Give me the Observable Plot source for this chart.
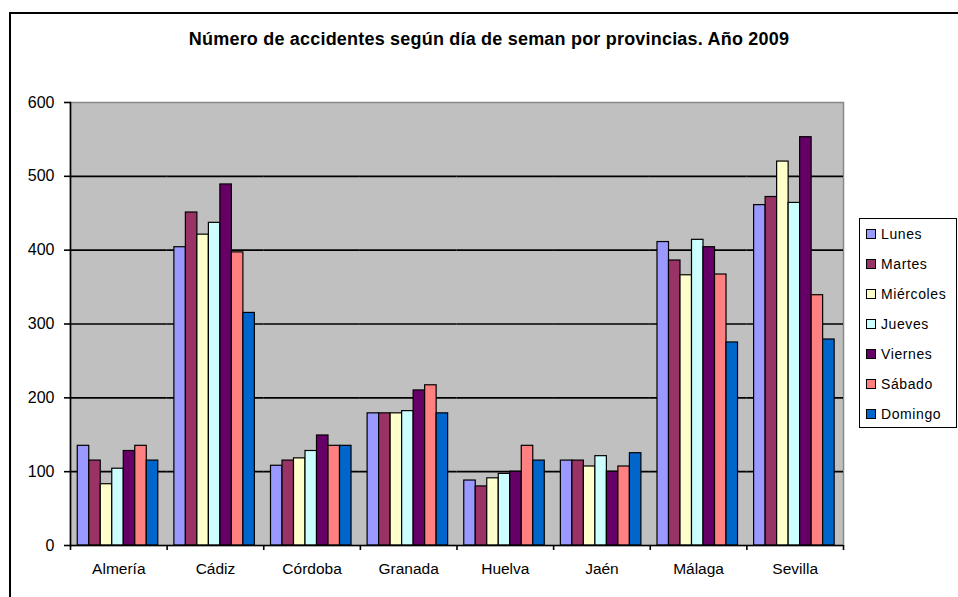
<!DOCTYPE html>
<html>
<head>
<meta charset="utf-8">
<script src="https://cdn.jsdelivr.net/npm/d3@7"></script>
<script src="https://cdn.jsdelivr.net/npm/@observablehq/plot@0.6"></script>
<style>
  html, body { margin: 0; padding: 0; background: #fff; overflow: hidden; }
  body { width: 958px; height: 597px; position: relative; font-family: "Liberation Sans", Arial, sans-serif; }
  #border { position: absolute; left: 9px; top: 12px; width: 980px; height: 620px; border: 2px solid #000; box-sizing: border-box; }
  #title { position: absolute; left: 0; width: 978px; top: 29px; text-align: center; font-size: 18px; font-weight: bold; color: #000; letter-spacing: 0.2px; }
  #chart { position: absolute; left: 0; top: 0; }
  #legend { position: absolute; left: 859px; top: 218px; width: 98px; height: 210px; border: 1.5px solid #000; box-sizing: border-box; background: #fff; }
  .item { position: absolute; left: 6px; height: 16px; display: flex; align-items: center; font-size: 14px; letter-spacing: 0.6px; color: #000; white-space: nowrap; }
  .sw { width: 8px; height: 8px; border: 1px solid #000; margin-right: 5px; flex: none; }
</style>
</head>
<body>
<div id="border"></div>
<div id="chart"></div>
<div id="title"></div>
<div id="legend"></div>
<script>
const titulo = "Número de accidentes según día de seman por provincias. Año 2009";
const provincias = ["Almería", "Cádiz", "Córdoba", "Granada", "Huelva", "Jaén", "Málaga", "Sevilla"];
const dias = ["Lunes", "Martes", "Miércoles", "Jueves", "Viernes", "Sábado", "Domingo"];
const colores = ["#9999FF", "#993366", "#FFFFCC", "#CCFFFF", "#660066", "#FF8080", "#0066CC"];
const lunes     = [135, 404, 108, 179, 88, 115, 411, 461];
const martes    = [115, 451, 115, 179, 80, 115, 386, 472];
const miercoles = [83, 421, 118, 179, 91, 107, 366, 520];
const jueves    = [104, 437, 128, 182, 97, 121, 414, 464];
const viernes   = [128, 489, 149, 210, 100, 100, 404, 553];
const sabado    = [135, 397, 135, 217, 135, 107, 367, 339];
const domingo   = [115, 315, 135, 179, 115, 125, 275, 279];
const yTicks = [0, 100, 200, 300, 400, 500, 600];

const series = [lunes, martes, miercoles, jueves, viernes, sabado, domingo];
const data = provincias.flatMap((p, i) => dias.map((d, j) => ({provincia: p, dia: d, valor: series[j][i]})));

const W = 958, H = 597, mL = 70, mR = 115, mT = 102, mB = 52;
const facetStep = (W - mL - mR) / provincias.length;

const chart = Plot.plot({
  width: W, height: H,
  marginLeft: mL, marginRight: mR, marginTop: mT, marginBottom: mB,
  style: {fontFamily: "Liberation Sans, Arial, sans-serif", color: "#000", background: "transparent", overflow: "visible"},
  fx: {domain: provincias, padding: 0, round: false, label: null, axis: null},
  x: {domain: dias, paddingInner: 0, paddingOuter: 0.7, round: false, align: 0.45, axis: null},
  y: {domain: [0, 600], axis: null},
  color: {domain: dias, range: colores},
  marks: [
    Plot.frame({facet: "super", fill: "#c0c0c0", stroke: "#888", strokeWidth: 1.5}),
    Plot.ruleY(yTicks.slice(1, -1), {stroke: "#000", strokeWidth: 1.6}),
    Plot.barY(data, {fx: "provincia", x: "dia", y: "valor", fill: "dia", stroke: "#000", strokeWidth: 1.2, inset: 0}),
    Plot.ruleY([0], {stroke: "#000", strokeWidth: 1.6}),
    Plot.frame({facet: "super", anchor: "left", stroke: "#000", strokeWidth: 1.6}),
    Plot.axisY({ticks: yTicks, tickSize: 6, tickPadding: 10, fontSize: 16, label: null, stroke: "#000", strokeWidth: 1.6}),
    Plot.axisFx({anchor: "bottom", tickSize: 0, tickPadding: 17, fontSize: 15.5, label: null, fill: "#000", letterSpacing: "0.5px"}),
    Plot.axisFx({anchor: "bottom", tickSize: 5, tickFormat: () => "", dx: -facetStep / 2, label: null, stroke: "#000", strokeWidth: 1.6}),
    Plot.axisFx({anchor: "bottom", ticks: [provincias[provincias.length - 1]], tickSize: 5, tickFormat: () => "", dx: facetStep / 2, label: null, stroke: "#000", strokeWidth: 1.6})
  ]
});
document.getElementById("chart").appendChild(chart);
document.getElementById("title").textContent = titulo;

const legend = document.getElementById("legend");
dias.forEach((d, i) => {
  const it = document.createElement("div");
  it.className = "item";
  it.style.top = (7 + i * 30) + "px";
  const sw = document.createElement("span");
  sw.className = "sw";
  sw.style.background = colores[i];
  const tx = document.createElement("span");
  tx.textContent = d;
  it.appendChild(sw);
  it.appendChild(tx);
  legend.appendChild(it);
});
</script>
</body>
</html>
